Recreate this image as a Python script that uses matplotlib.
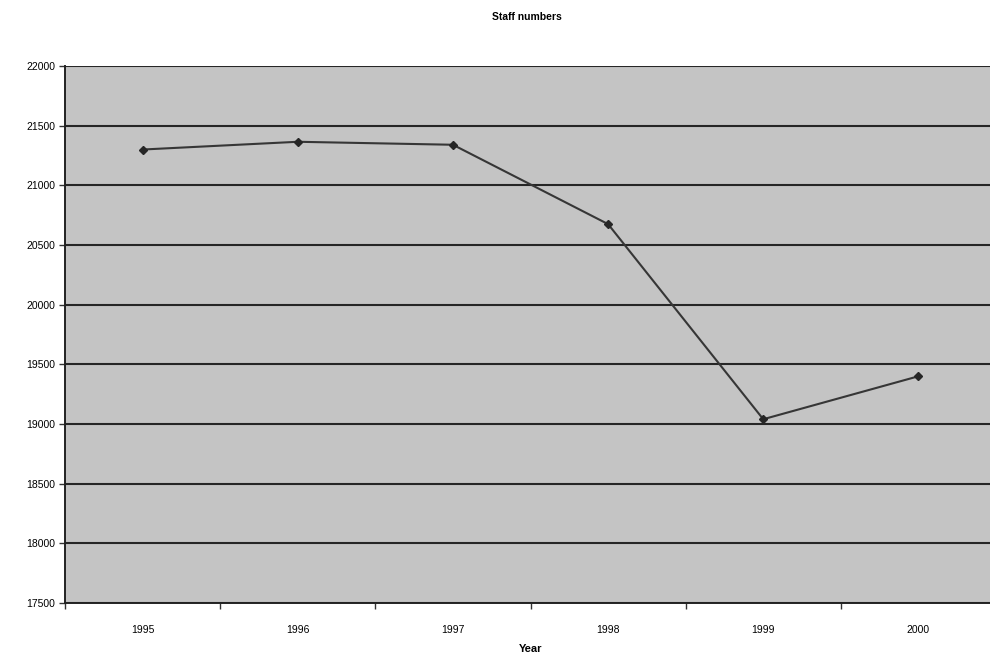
import matplotlib
matplotlib.use("Agg")
import matplotlib.pyplot as plt
import numpy as np

years = ["1995", "1996", "1997", "1998", "1999", "2000"]
staff = [21300, 21365, 21340, 20675, 19040, 19400]
y_ticks = list(range(17500, 22001, 500))

fig = plt.figure(figsize=(9.9, 6.59), dpi=100)
fig.patch.set_facecolor("white")

# plot area runs slightly past the right edge of the figure
ax = fig.add_axes([65 / 990, 56 / 659, 931 / 990, 537 / 659])
ax.set_facecolor("#c4c4c4")

x = np.arange(len(years))
ax.plot(x, staff, color="#363636", lw=1.5, marker="D", ms=4,
        mfc="#262626", mec="#262626", zorder=3)

ax.set_xlim(-0.5, len(years) - 0.5)
ax.set_ylim(17500, 22000)
ax.set_yticks(y_ticks)
ax.set_yticklabels([str(v) for v in y_ticks], fontsize=7.5, family="Liberation Sans")
ax.yaxis.grid(True, color="#262626", lw=1.5)
ax.set_axisbelow(True)

# category ticks sit between the years, labels centred on each year
ax.set_xticks(np.arange(-0.5, len(years), 1.0))
ax.set_xticklabels([])
ax.set_xticks(x, minor=True)
ax.set_xticklabels(years, minor=True, fontsize=7.5, family="Liberation Sans")
ax.tick_params(axis="x", which="minor", length=0, pad=16)
ax.tick_params(axis="x", which="major", length=4, width=1, color="#333333")
ax.tick_params(axis="y", length=4, width=1, color="#333333", pad=3)

for side in ("top", "right"):
    ax.spines[side].set_visible(False)
for side in ("left", "bottom"):
    ax.spines[side].set_color("#222222")
    ax.spines[side].set_linewidth(1.4)

ax.set_xlabel("Year", fontsize=8, fontweight="bold", family="Liberation Sans", labelpad=6)
fig.text(527 / 990, 1 - 17 / 659, "Staff numbers", ha="center", va="center",
         fontsize=7.5, fontweight="semibold", family="Liberation Sans")

fig.savefig("out.png", dpi=100)
